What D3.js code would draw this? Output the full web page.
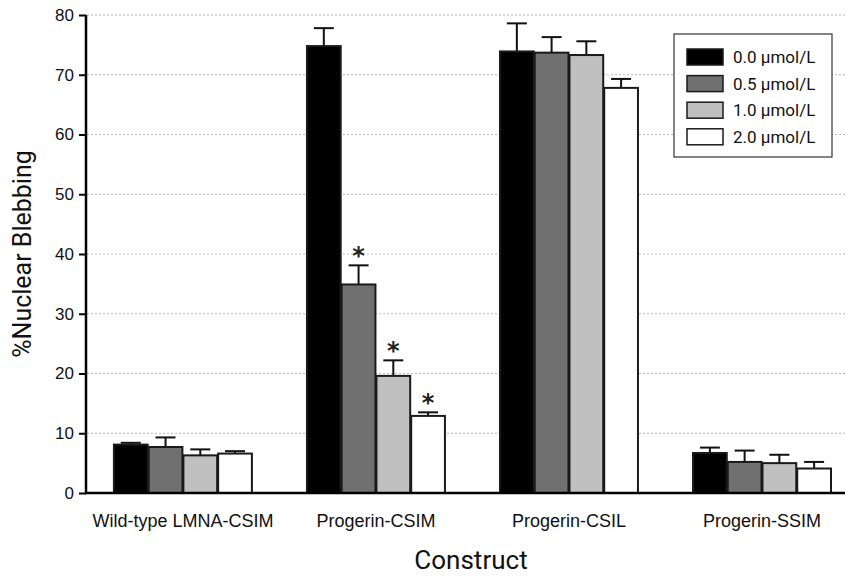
<!DOCTYPE html>
<html>
<head>
<meta charset="utf-8">
<script src="https://cdn.jsdelivr.net/npm/d3@7"></script>
<style>
  body { margin: 0; background: #fff; }
  svg { display: block; font-family: Roboto, "DejaVu Sans", sans-serif; }
</style>
</head>
<body>
<svg id="chart" width="845" height="576"></svg>
<script>
(function(){
"use strict";

// data
const constructs = ["Wild-type LMNA-CSIM", "Progerin-CSIM", "Progerin-CSIL", "Progerin-SSIM"];
const doses = ["0.0 \u00b5mol/L", "0.5 \u00b5mol/L", "1.0 \u00b5mol/L", "2.0 \u00b5mol/L"];
const means = [
  [8.1, 7.7, 6.3, 6.6],
  [74.8, 34.9, 19.6, 12.9],
  [73.9, 73.7, 73.3, 67.8],
  [6.7, 5.2, 5.0, 4.1]
];
const errors = [
  [0.3, 1.6, 1.0, 0.4],
  [3.0, 3.2, 2.6, 0.6],
  [4.7, 2.6, 2.3, 1.5],
  [0.9, 1.9, 1.4, 1.1]
];
const significant = [
  [false, false, false, false],
  [false, true, true, true],
  [false, false, false, false],
  [false, false, false, false]
];
const yTicks = [0, 10, 20, 30, 40, 50, 60, 70, 80];
const fills = ["#000000", "#707070", "#c0c0c0", "#ffffff"];

let svg = d3.select("#chart");

let x0 = d3.scaleBand()
  .domain(constructs)
  .range([86, 845])
  .paddingInner(0.28)
  .paddingOuter(0.106)
  .align(0.67);

let x1 = d3.scaleBand()
  .domain(doses)
  .range([0, x0.bandwidth()]);

let y = d3.scaleLinear()
  .domain([0, 80])
  .range([493, 15]);

let color = d3.scaleOrdinal().domain(doses).range(fills);

// dotted grid
svg.append("g")
  .selectAll("line")
  .data(yTicks.filter(t => t > 0))
  .enter().append("line")
    .attr("x1", 87).attr("x2", 845)
    .attr("y1", d => y(d)).attr("y2", d => y(d))
    .attr("stroke", "#b8b8b8")
    .attr("stroke-width", 1)
    .attr("stroke-dasharray", "2,2");

// bars
let rows = [];
constructs.forEach((c, i) => doses.forEach((d, j) => rows.push({
  construct: c, dose: d, value: means[i][j], err: errors[i][j], sig: significant[i][j]
})));

let groups = svg.append("g")
  .selectAll("g")
  .data(rows)
  .enter().append("g")
    .attr("transform", d => "translate(" + (x0(d.construct) + x1(d.dose)) + ",0)");

// error bars (upper only)
groups.append("line")
  .attr("x1", x1.bandwidth() / 2).attr("x2", x1.bandwidth() / 2)
  .attr("y1", d => y(d.value)).attr("y2", d => y(d.value + d.err))
  .attr("stroke", "#111").attr("stroke-width", 2);
groups.append("line")
  .attr("x1", x1.bandwidth() / 2 - 10).attr("x2", x1.bandwidth() / 2 + 10)
  .attr("y1", d => y(d.value + d.err)).attr("y2", d => y(d.value + d.err))
  .attr("stroke", "#111").attr("stroke-width", 2);

groups.append("rect")
  .attr("x", 0.5)
  .attr("width", x1.bandwidth() - 1)
  .attr("y", d => y(d.value))
  .attr("height", d => y(0) - y(d.value))
  .attr("fill", d => color(d.dose))
  .attr("stroke", "#1a1a1a")
  .attr("stroke-width", 2);

groups.filter(d => d.sig).append("text")
  .attr("x", x1.bandwidth() / 2)
  .attr("y", d => y(d.value + d.err) - 1)
  .attr("text-anchor", "middle")
  .style("font-family", "'DejaVu Sans', sans-serif")
  .style("font-size", "24px")
  .style("font-weight", "bold")
  .attr("fill", "#222")
  .text("*");

// y axis
let yAxis = svg.append("g")
  .attr("transform", "translate(86,0)")
  .call(d3.axisLeft(y).tickValues(yTicks).tickSize(7).tickPadding(5));
yAxis.select(".domain").attr("stroke", "#000").attr("stroke-width", 2.5)
  .attr("d", "M0," + y(80) + "V" + y(0));
yAxis.selectAll(".tick line").attr("stroke", "#000").attr("stroke-width", 2);
yAxis.selectAll(".tick text").style("font-size", "17px").attr("fill", "#111");

// x axis baseline
let xAxis = svg.append("g")
  .attr("transform", "translate(0," + y(0) + ")")
  .call(d3.axisBottom(x0).tickSize(0).tickPadding(21));
xAxis.select(".domain").attr("stroke", "#000").attr("stroke-width", 2.5)
  .attr("d", "M85,0H845");
xAxis.selectAll(".tick text").style("font-size", "18px").attr("fill", "#111");

// axis titles
svg.append("text")
  .attr("transform", "translate(31,254) rotate(-90)")
  .attr("text-anchor", "middle")
  .style("font-size", "25px")
  .attr("fill", "#111")
  .text("%Nuclear Blebbing");

svg.append("text")
  .attr("x", 471).attr("y", 569)
  .attr("text-anchor", "middle")
  .style("font-size", "26px")
  .attr("fill", "#111")
  .text("Construct");

// legend
let legend = svg.append("g").attr("transform", "translate(674,34)");
legend.append("rect")
  .attr("x", 0).attr("y", 0).attr("width", 158).attr("height", 123)
  .attr("fill", "#fff").attr("stroke", "#333").attr("stroke-width", 1.2);
let items = legend.selectAll("g.item")
  .data(doses)
  .enter().append("g")
    .attr("class", "item")
    .attr("transform", (d, i) => "translate(13," + (15 + i * 26.6) + ")");
items.append("rect")
  .attr("width", 36).attr("height", 16)
  .attr("fill", d => color(d))
  .attr("stroke", "#1a1a1a").attr("stroke-width", 1.5);
items.append("text")
  .attr("x", 46).attr("y", 14)
  .style("font-size", "17px")
  .attr("fill", "#111")
  .text(d => d);

})();
</script>
</body>
</html>
